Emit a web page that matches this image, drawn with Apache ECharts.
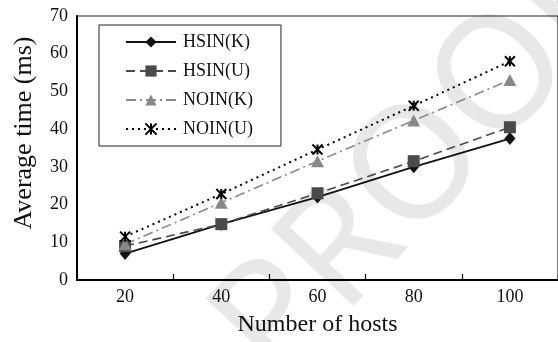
<!DOCTYPE html>
<html>
<head>
<meta charset="utf-8">
<script src="https://cdn.jsdelivr.net/npm/echarts@6/dist/echarts.min.js"></script>
<style>
html,body{margin:0;padding:0;background:#fff;}
#chart{width:558px;height:342px;}
</style>
</head>
<body>
<div id="chart"></div>
<script>
var categories = ['20', '40', '60', '80', '100'];
var hsinK = [7, 14.8, 22, 30, 37.5];
var hsinU = [9, 14.8, 23, 31.5, 40.5];
var noinK = [9.5, 20.5, 31.5, 42.3, 53];
var noinU = [11.5, 22.8, 34.6, 46.2, 58];
var yTicks = [0, 10, 20, 30, 40, 50, 60, 70];

var FONT = '"Liberation Serif", "DejaVu Serif", serif';
var starPath = 'path://M0,0L10,10M10,0L0,10M5,0L5,10';

var chart = echarts.init(document.getElementById('chart'), null, {renderer: 'canvas'});
chart.setOption({
  animation: false,
  backgroundColor: '#fff',
  graphic: [{
    type: 'text',
    z: -10,
    x: 423, y: 165,
    rotation: 47 * Math.PI / 180,
    style: {
      text: 'PROOF',
      font: '158px "Noto Sans", sans-serif',
      fill: '#e8e8e8',
      align: 'center',
      verticalAlign: 'middle'
    },
    silent: true
  }],
  grid: {
    left: 77, top: 16, width: 485, height: 267,
    show: true, borderColor: '#222', borderWidth: 1.2,
    backgroundColor: 'transparent'
  },
  legend: {
    orient: 'vertical',
    left: 99, top: 25,
    padding: [7, 28, 7, 26],
    itemWidth: 50, itemHeight: 14, itemGap: 9,
    backgroundColor: '#fff',
    borderColor: '#222', borderWidth: 1,
    textStyle: {fontFamily: FONT, fontSize: 18, color: '#111', lineHeight: 20, padding: [0,0,0,2]},
    data: ['HSIN(K)', 'HSIN(U)', 'NOIN(K)', 'NOIN(U)']
  },
  xAxis: {
    type: 'category',
    data: categories,
    boundaryGap: true,
    name: 'Number of hosts',
    nameLocation: 'middle',
    nameGap: 33,
    nameTextStyle: {fontFamily: FONT, fontSize: 24, color: '#111'},
    axisLine: {lineStyle: {color: '#000', width: 2}},
    axisTick: {show: true, inside: true, length: 6, interval: 0, lineStyle: {color: '#000', width: 1.2}},
    axisLabel: {fontFamily: FONT, fontSize: 18, color: '#111', margin: 8},
    splitLine: {show: false}
  },
  yAxis: {
    type: 'value',
    min: 0, max: 70, interval: 10,
    name: 'Average time (ms)',
    nameLocation: 'middle',
    nameGap: 40,
    nameTextStyle: {fontFamily: FONT, fontSize: 26, color: '#111', padding: [0, 0, 0, 30]},
    axisLine: {show: true, lineStyle: {color: '#000', width: 2}},
    axisTick: {show: false},
    axisLabel: {fontFamily: FONT, fontSize: 18, color: '#111', margin: 9,
      formatter: function (v) { return yTicks.indexOf(v) >= 0 ? String(v) : ''; }},
    splitLine: {show: false}
  },
  series: [
    {
      name: 'HSIN(K)', type: 'line', data: hsinK,
      symbol: 'diamond', symbolSize: [11, 13],
      lineStyle: {color: '#111', width: 1.8, type: 'solid'},
      itemStyle: {color: '#111'}
    },
    {
      name: 'HSIN(U)', type: 'line', data: hsinU,
      symbol: 'rect', symbolSize: 12,
      lineStyle: {color: '#4a4a4a', width: 1.6, type: [9, 5]},
      itemStyle: {color: '#4a4a4a'}
    },
    {
      name: 'NOIN(K)', type: 'line', data: noinK,
      symbol: 'triangle', symbolSize: [13, 12],
      lineStyle: {color: '#888', width: 1.6, type: [10, 4, 2, 4]},
      itemStyle: {color: '#888'}
    },
    {
      name: 'NOIN(U)', type: 'line', data: noinU,
      symbol: starPath, symbolSize: 10,
      lineStyle: {color: '#000', width: 2, type: [2, 4]},
      itemStyle: {color: '#000', borderColor: '#000', borderWidth: 2}
    }
  ]
});
</script>
</body>
</html>
